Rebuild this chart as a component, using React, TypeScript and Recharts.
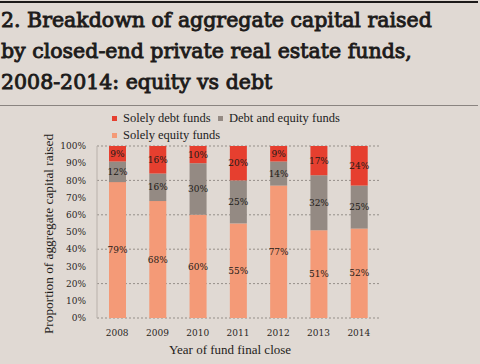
import React from "react";
import { BarChart, Bar, XAxis, YAxis, CartesianGrid, LabelList, Label } from "recharts";

const years = ["2008", "2009", "2010", "2011", "2012", "2013", "2014"];
const equityOnly = [79, 68, 60, 55, 77, 51, 52];
const debtAndEquity = [12, 16, 30, 25, 14, 32, 25];
const debtOnly = [9, 16, 10, 20, 9, 17, 24];
const yTicks = [0, 10, 20, 30, 40, 50, 60, 70, 80, 90, 100];
const boundaryTicks = [0, 1, 2, 3, 4, 5, 6, 7];

const titleLines = [
  "2. Breakdown of aggregate capital raised",
  "by closed-end private real estate funds,",
  "2008-2014: equity vs debt",
];

const series = [
  { key: "equity", name: "Solely equity funds", color: "#f49a77" },
  { key: "mixed", name: "Debt and equity funds", color: "#948a83" },
  { key: "debt", name: "Solely debt funds", color: "#e63f2f" },
];

const data = years.map((year, i) => ({
  year,
  idx: i + 0.5,
  equity: equityOnly[i],
  mixed: debtAndEquity[i],
  debt: debtOnly[i],
}));

const bg = "#e0d9d3";
const serif = "'Liberation Serif', 'Times New Roman', serif";
const slab = "'DejaVu Serif', serif";

const pct = (v: any) => `${v}%`;

export default function App() {
  // legend lists debt first, like the original
  const legendItems = [series[2], series[1], series[0]];
  return (
    <div style={{ position: "relative", width: 480, height: 364, background: bg, overflow: "hidden" }}>
      <style>{`body{margin:0}`}</style>
      <div style={{ position: "absolute", left: 0, top: 1, width: 478, height: 2, background: "#1c1a19" }} />
      <div
        style={{
          position: "absolute",
          left: 1,
          top: 5,
          fontFamily: slab,
          fontWeight: 400,
          fontSize: 20.5,
          lineHeight: "31px",
          color: "#1d1b1a",
          WebkitTextStroke: "0.9px #1d1b1a",
          whiteSpace: "nowrap",
        }}
      >
        {titleLines.map((t) => (
          <div key={t}>{t}</div>
        ))}
      </div>
      <div style={{ position: "absolute", left: 0, top: 105, width: 478, height: 1, background: "#8a8480" }} />

      <div style={{ position: "absolute", left: 112, top: 111, width: 260, display: "flex", flexWrap: "wrap", rowGap: 2 }}>
        {legendItems.map((s) => (
          <div
            key={s.key}
            style={{
              display: "flex",
              alignItems: "center",
              width: s.key === "debt" ? 106 : s.key === "mixed" ? 150 : 200,
              height: 15,
              fontFamily: serif,
              fontSize: 12.5,
              color: "#222",
            }}
          >
            <span style={{ display: "inline-block", width: 5, height: 5, background: s.color, marginRight: 6 }} />
            {s.name}
          </div>
        ))}
      </div>

      <div style={{ position: "absolute", left: 0, top: 0 }}>
        <BarChart width={480} height={364} data={data} margin={{ top: 146, right: 101, bottom: 0, left: 0 }}>
          <CartesianGrid vertical={false} stroke="#958f89" strokeDasharray="2 2" />
          <XAxis
            xAxisId="frame"
            type="number"
            dataKey="idx"
            domain={[0, 7]}
            ticks={boundaryTicks}
            allowDataOverflow
            height={0}
            tick={false}
            tickSize={4}
            stroke="#8a8480"
            strokeWidth={1.5}
          />
          <XAxis
            dataKey="year"
            height={46}
            axisLine={false}
            tickLine={false}
            tickSize={0}
            tickMargin={12}
            tick={{ fontFamily: slab, fontSize: 9, fill: "#2a2623" }}
          >
            <Label
              value="Year of fund final close"
              position="insideBottom"
              offset={10}
              dx={-8}
              style={{ fontFamily: serif, fontSize: 13, fill: "#1f1c1a" }}
            />
          </XAxis>
          <YAxis
            width={97}
            domain={[0, 100]}
            ticks={yTicks}
            allowDataOverflow
            tickFormatter={pct}
            tickLine={false}
            tickSize={6}
            tickMargin={5}
            axisLine={{ stroke: "#b9b1ab" }}
            tick={{ fontFamily: slab, fontSize: 9, fill: "#2a2623" }}
          >
            <Label
              value="Proportion of aggregate capital raised"
              angle={-90}
              position="center"
              dx={0}
              dy={2}
              style={{ fontFamily: serif, fontSize: 13.3, fill: "#1f1c1a", textAnchor: "middle" }}
            />
          </YAxis>
          {series.map((s) => (
            <Bar key={s.key} dataKey={s.key} name={s.name} stackId="a" fill={s.color} barSize={17} isAnimationActive={false}>
              <LabelList
                dataKey={s.key}
                position="center"
                formatter={pct}
                style={{ fontFamily: slab, fontSize: 9, fill: "#1e1a17" }}
              />
            </Bar>
          ))}
        </BarChart>
      </div>
    </div>
  );
}
